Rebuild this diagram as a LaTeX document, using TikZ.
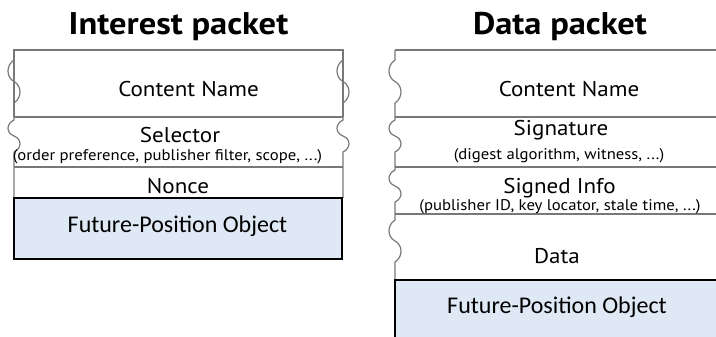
\documentclass[tikz,border=0pt]{standalone}
\usepackage{fontspec}
\setmainfont{PT Sans}
\newfontfamily\widesans[FakeStretch=1.08]{PT Sans}
\newfontfamily\widetitle[FakeStretch=1.1]{PT Sans Bold}
\newfontfamily\calfont{Carlito}

\definecolor{rulegray}{RGB}{120,120,120}
\definecolor{fpofill}{RGB}{222,233,245}

\tikzset{
  field/.style={draw=rulegray, line width=0.9pt},
  fpobox/.style={draw=black, fill=fpofill, line width=0.9pt},
  title/.style={anchor=base, inner sep=0pt, font=\widetitle\fontsize{23.5}{25}\selectfont},
  label/.style={anchor=base, inner sep=0pt, font=\widesans\fontsize{16}{18}\selectfont},
  sublabel/.style={anchor=base, inner sep=0pt, font=\widesans\fontsize{11.6}{13}\selectfont},
  fpolabel/.style={anchor=base, inner sep=0pt, font=\calfont\fontsize{18}{20}\selectfont},
}

% S-shaped break in a vertical edge at x=#1, from y=#2 down to y=#3
\newcommand{\wavyedge}[3]{%
  (#1,#2) .. controls ({#1-8},{#2+0.12*(#3-#2)}) and ({#1-8},{#2+0.40*(#3-#2)}) .. ({#1},{#2+0.5*(#3-#2)})
          .. controls ({#1+8},{#2+0.60*(#3-#2)}) and ({#1+8},{#2+0.88*(#3-#2)}) .. (#1,#3)}

\begin{document}
\begin{tikzpicture}[x=0.75pt, y=-0.75pt]
\useasboundingbox (0,0) rectangle (716,336);
\clip (0,0) rectangle (716,336);

% ---------- Interest packet ----------
\node[title] (ititle) at (178.5,34) {Interest packet};

\draw[field] (14,117) -- (14,50) -- (343,50) -- (343,117);
\draw[field] (14,117) -- (343,117);
\draw[field] (14,167) -- (343,167);
\draw[field] (14,198) -- (343,198);
% left edge with breaks
\draw[field] (14,50) -- (14,60) -- \wavyedge{14}{60}{103} -- (14,120) -- \wavyedge{14}{120}{152} -- (14,198);
% right edge with breaks
\draw[field] (343,50) -- (343,60) -- \wavyedge{343}{60}{103} -- (343,120) -- \wavyedge{343}{120}{152} -- (343,198);

\draw[fpobox] (14,198) rectangle (342,259);

\node[label] (icname) at (188.5,96) {Content Name};
\node[label] (isel) at (180,142) {Selector};
\node[sublabel] (iseldet) at (167.5,160) {(order preference, publisher filter, scope, ...)};
\node[label] (inonce) at (178,193) {Nonce};
\node[fpolabel] (ifpo) at (177.5,232) {Future-Position Object};

% ---------- Data packet ----------
\node[title] (dtitle) at (560,34) {Data packet};

\draw[field] (395,50) -- (730,50);
\draw[field] (395,117) -- (730,117);
\draw[field] (395,167) -- (730,167);
\draw[field] (395,214) -- (730,214);
\draw[field] (395,50) -- (395,60) -- \wavyedge{395}{60}{103} -- (395,120) -- \wavyedge{395}{120}{152}
  -- (395,170) -- \wavyedge{395}{170}{202} -- (395,220) -- \wavyedge{395}{220}{262} -- (395,280);

\draw[fpobox] (395,280) rectangle (740,350);

\node[label] (dcname) at (569,96) {Content Name};
\node[label] (dsig) at (561,135) {Signature};
\node[sublabel] (dsigdet) at (559,159) {(digest algorithm, witness, ...)};
\node[label] (dsinfo) at (559.5,193) {Signed Info};
\node[sublabel] (dsinfodet) at (560,210) {(publisher ID, key locator, stale time, ...)};
\node[label] (ddata) at (557,263) {Data};
\node[fpolabel] (dfpo) at (557,313) {Future-Position Object};
\end{tikzpicture}
\end{document}
